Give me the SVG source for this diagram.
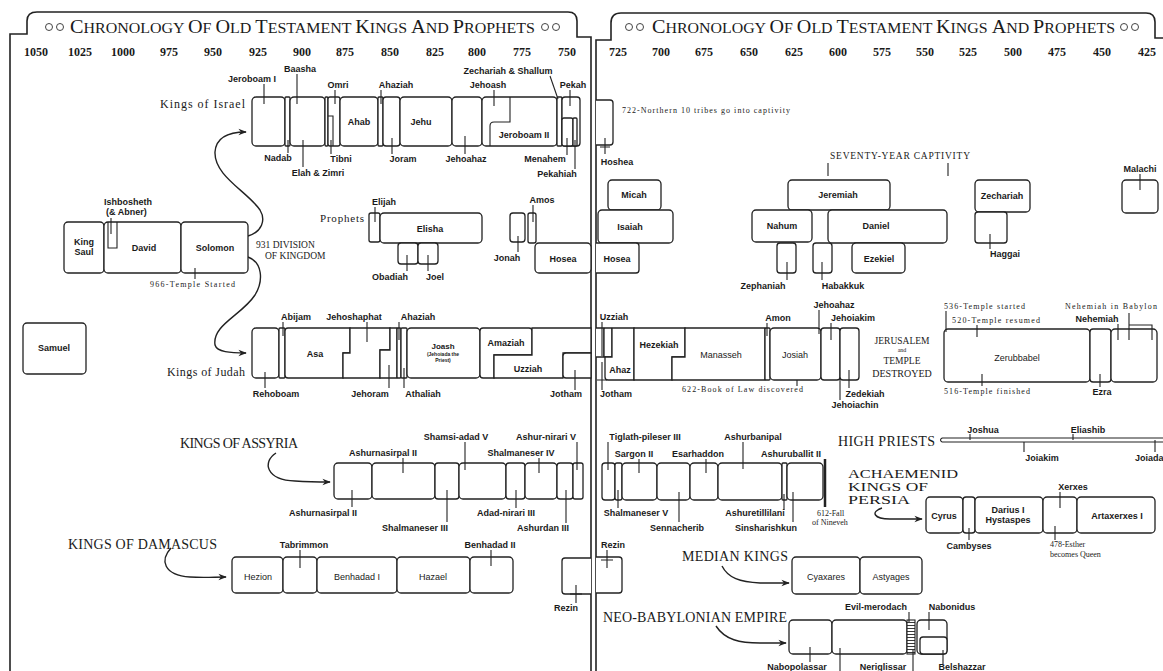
<svg xmlns="http://www.w3.org/2000/svg" width="1163" height="671" viewBox="0 0 1163 671">
<defs>
<marker id="ah" viewBox="0 0 10 10" refX="9" refY="5" markerWidth="6" markerHeight="6" orient="auto"><path d="M0,1 L10,5 L0,9 L3,5 Z" fill="#222"/></marker>
<pattern id="hatch" width="4" height="3" patternUnits="userSpaceOnUse"><rect width="4" height="3" fill="#fff"/><path d="M0,1.5 H4" stroke="#222" stroke-width="0.9"/></pattern>
<style>
.f{fill:none;stroke:#222;stroke-width:1.6}
.b{fill:#fff;stroke:#222;stroke-width:1.3}
.k{fill:none;stroke:#222;stroke-width:1.1}
.c{fill:none;stroke:#222;stroke-width:1.4}
.o{fill:none;stroke:#444;stroke-width:1}
.t{font-family:"Liberation Sans",Arial,sans-serif;font-size:9px;font-weight:bold;fill:#1a1a1a;text-anchor:middle}
.n{font-family:"Liberation Serif","Times New Roman",serif;font-size:8px;fill:#1a1a1a}
.y{font-family:"Liberation Serif","Times New Roman",serif;font-size:12px;font-weight:bold;fill:#1a1a1a;text-anchor:middle}
.h{font-family:"Liberation Serif","Times New Roman",serif;fill:#1a1a1a}
.s{font-family:"Liberation Serif","Times New Roman",serif;font-size:12px;fill:#1a1a1a}
.cap{font-family:"Liberation Serif","Times New Roman",serif;font-size:14px;fill:#1a1a1a}
</style>
</defs>
<rect width="1163" height="671" fill="#fff"/>

<g id="frame">
<path class="f" d="M10,671 V34 H27 V21 Q27,12 37,12 H568 Q577,12 577,21 V37 H591 V671"/>
<path class="f" d="M596,671 V40 H611 V23 Q611,13 621,13 H1146 Q1155,13 1155,22 V38 H1163"/>
<circle class="o" cx="49" cy="27" r="3.5"/><circle class="o" cx="60" cy="27" r="3.5"/>
<circle class="o" cx="545" cy="27" r="3.5"/><circle class="o" cx="556" cy="27" r="3.5"/>
<circle class="o" cx="629" cy="27" r="3.5"/><circle class="o" cx="640" cy="27" r="3.5"/>
<circle class="o" cx="1124" cy="27" r="3.5"/><circle class="o" cx="1135" cy="27" r="3.5"/>
<text class="h" x="70" y="33" textLength="465" lengthAdjust="spacingAndGlyphs"><tspan font-size="19">C</tspan><tspan font-size="15">HRONOLOGY </tspan><tspan font-size="19">O</tspan><tspan font-size="15">F </tspan><tspan font-size="19">O</tspan><tspan font-size="15">LD </tspan><tspan font-size="19">T</tspan><tspan font-size="15">ESTAMENT </tspan><tspan font-size="19">K</tspan><tspan font-size="15">INGS </tspan><tspan font-size="19">A</tspan><tspan font-size="15">ND </tspan><tspan font-size="19">P</tspan><tspan font-size="15">ROPHETS</tspan></text>
<text class="h" x="652" y="33" textLength="463" lengthAdjust="spacingAndGlyphs"><tspan font-size="19">C</tspan><tspan font-size="15">HRONOLOGY </tspan><tspan font-size="19">O</tspan><tspan font-size="15">F </tspan><tspan font-size="19">O</tspan><tspan font-size="15">LD </tspan><tspan font-size="19">T</tspan><tspan font-size="15">ESTAMENT </tspan><tspan font-size="19">K</tspan><tspan font-size="15">INGS </tspan><tspan font-size="19">A</tspan><tspan font-size="15">ND </tspan><tspan font-size="19">P</tspan><tspan font-size="15">ROPHETS</tspan></text>
</g>

<g id="years">
<text class="y" x="36" y="56">1050</text><text class="y" x="80" y="56">1025</text><text class="y" x="123" y="56">1000</text><text class="y" x="169" y="56">975</text><text class="y" x="213" y="56">950</text><text class="y" x="258" y="56">925</text><text class="y" x="302" y="56">900</text><text class="y" x="345" y="56">875</text><text class="y" x="390" y="56">850</text><text class="y" x="435" y="56">825</text><text class="y" x="477" y="56">800</text><text class="y" x="522" y="56">775</text><text class="y" x="567" y="56">750</text>
<text class="y" x="618" y="56">725</text><text class="y" x="661" y="56">700</text><text class="y" x="704" y="56">675</text><text class="y" x="749" y="56">650</text><text class="y" x="794" y="56">625</text><text class="y" x="838" y="56">600</text><text class="y" x="882" y="56">575</text><text class="y" x="925" y="56">550</text><text class="y" x="968" y="56">525</text><text class="y" x="1013" y="56">500</text><text class="y" x="1057" y="56">475</text><text class="y" x="1102" y="56">450</text><text class="y" x="1147" y="56">425</text>
</g>

<g id="connectors">
<path class="c" d="M248,236 C262,232 266,220 260,210 C248,192 214,176 215,152 C216,138 228,132 246,132" marker-end="url(#ah)"/>
<path class="c" d="M248,257 C262,262 264,280 255,295 C242,315 212,325 215,345 C217,352 230,353 246,353" marker-end="url(#ah)"/>
<path class="c" d="M276,453 C262,462 266,480 295,481 C310,482 320,482 330,482" marker-end="url(#ah)"/>
<path class="c" d="M171,548 C160,560 163,575 190,577 C205,578 214,577 226,577" marker-end="url(#ah)"/>
<path class="c" d="M722,566 C728,578 740,582 760,583 L789,583" marker-end="url(#ah)"/>
<path class="c" d="M716,626 C725,640 740,643 760,643 L786,643" marker-end="url(#ah)"/>
<path class="c" d="M882,508 C870,512 874,519 890,519 L922,519" marker-end="url(#ah)"/>
</g>

<!-- United kingdom -->
<g id="samuel"><rect class="b" x="23" y="323" width="63" height="51" rx="4"/><text class="t" x="54" y="351">Samuel</text></g>
<g id="saul"><rect class="b" x="64" y="222" width="40" height="51" rx="4"/><text class="t" x="84" y="245">King</text><text class="t" x="84" y="255">Saul</text></g>
<g id="david"><rect class="b" x="104" y="222" width="77" height="51" rx="4"/><text class="t" x="144" y="251">David</text></g>
<g id="ishbosheth"><path class="k" d="M108,222 V248 H117 V222"/><path class="k" d="M111,218 V234"/><text class="t" x="104" y="205" style="text-anchor:start">Ishbosheth</text><text class="t" x="106" y="215" style="text-anchor:start">(&amp; Abner)</text></g>
<g id="solomon"><rect class="b" x="181" y="222" width="67" height="51" rx="4"/><text class="t" x="215" y="251">Solomon</text><path class="k" d="M195,268 V279"/><text class="n" x="150" y="287" textLength="85">966-Temple Started</text></g>
<g id="division"><text class="h" font-size="9.5" x="256" y="248">931 DIVISION</text><text class="h" font-size="9.5" x="265" y="259">OF KINGDOM</text></g>

<!-- Kings of Israel -->
<g id="israel-label"><text class="s" x="160" y="108" textLength="85">Kings of Israel</text></g>
<g id="jeroboam1"><rect class="b" x="252" y="97" width="33" height="49" rx="4"/><path class="k" d="M264,84 V104"/><text class="t" x="252" y="82">Jeroboam I</text></g>
<g id="nadab"><rect class="b" x="285" y="97" width="5" height="49" rx="1"/><path class="k" d="M288,140 V153"/><text class="t" x="278" y="161">Nadab</text></g>
<g id="baasha"><rect class="b" x="290" y="97" width="35" height="49" rx="4"/><path class="k" d="M297,74 V104"/><text class="t" x="300" y="72">Baasha</text></g>
<g id="elah"><rect class="b" x="325" y="97" width="3" height="49" rx="1"/><path class="k" d="M303,140 V167"/><text class="t" x="318" y="176">Elah &amp; Zimri</text></g>
<g id="omri"><rect class="b" x="328" y="97" width="12" height="49" rx="2"/><path class="k" d="M328,116 H333 V146"/><path class="k" d="M335,90 V104"/><text class="t" x="338" y="88">Omri</text></g>
<g id="tibni"><path class="k" d="M331,140 V154"/><text class="t" x="341" y="162">Tibni</text></g>
<g id="ahab"><rect class="b" x="340" y="97" width="38" height="49" rx="4"/><text class="t" x="359" y="125">Ahab</text></g>
<g id="ahaziah-i"><rect class="b" x="378" y="97" width="5" height="49" rx="1"/><path class="k" d="M381,90 V104"/><text class="t" x="396" y="88">Ahaziah</text></g>
<g id="joram"><rect class="b" x="383" y="97" width="17" height="49" rx="3"/><path class="k" d="M392,138 V154"/><text class="t" x="403" y="162">Joram</text></g>
<g id="jehu"><rect class="b" x="400" y="97" width="52" height="49" rx="4"/><text class="t" x="421" y="125">Jehu</text></g>
<g id="jehoahaz-i"><rect class="b" x="452" y="97" width="30" height="49" rx="4"/><path class="k" d="M465,136 V154"/><text class="t" x="466" y="162">Jehoahaz</text></g>
<g id="jeroboam2"><rect class="b" x="482" y="97" width="75" height="49" rx="4"/><path class="k" d="M510,97 V122 H494 Q490,122 490,126 V146"/><text class="t" x="524" y="138">Jeroboam II</text></g>
<g id="jehoash"><path class="k" d="M494,90 V106"/><text class="t" x="488" y="88">Jehoash</text></g>
<g id="zechariah-shallum"><rect class="b" x="557" y="97" width="5" height="49" rx="1"/><path class="k" d="M550,76 L558,99"/><text class="t" x="508" y="74">Zechariah &amp; Shallum</text></g>
<g id="pekah"><rect class="b" x="562" y="97" width="18" height="49" rx="3"/><path class="k" d="M570,90 V106"/><text class="t" x="573" y="88">Pekah</text></g>
<g id="menahem"><rect class="b" x="562" y="118" width="11" height="28" rx="2"/><path class="k" d="M567,138 V155"/><text class="t" x="545" y="162">Menahem</text></g>
<g id="pekahiah"><rect class="b" x="573" y="118" width="4" height="28" rx="1"/><path class="k" d="M575,140 V169"/><text class="t" x="557" y="177">Pekahiah</text></g>
<g id="hoshea"><path class="b" d="M596,100 H610 Q613,100 613,103 V142 Q613,145 610,145 H596"/><path class="k" d="M605,138 V154 M600,147 H610"/><text class="t" x="617" y="165">Hoshea</text></g>
<g id="captivity722"><text class="n" x="622" y="113" textLength="168">722-Northern 10 tribes go into captivity</text></g>

<!-- Prophets -->
<g id="prophets-label"><text class="s" x="320" y="222" style="font-size:11px" textLength="44">Prophets</text></g>
<g id="elijah"><rect class="b" x="369" y="213" width="11" height="29" rx="2"/><path class="k" d="M375,207 V222"/><text class="t" x="384" y="205">Elijah</text></g>
<g id="elisha"><rect class="b" x="380" y="213" width="102" height="30" rx="4"/><text class="t" x="430" y="232">Elisha</text></g>
<g id="obadiah"><rect class="b" x="398" y="243" width="20" height="21" rx="3"/><path class="k" d="M407,255 V271"/><text class="t" x="390" y="280">Obadiah</text></g>
<g id="joel"><rect class="b" x="418" y="243" width="20" height="21" rx="3"/><path class="k" d="M428,255 V271"/><text class="t" x="435" y="280">Joel</text></g>
<g id="jonah"><rect class="b" x="510" y="213" width="15" height="29" rx="3"/><path class="k" d="M518,236 V252"/><text class="t" x="507" y="261">Jonah</text></g>
<g id="amos"><rect class="b" x="528" y="213" width="8" height="30" rx="2"/><path class="k" d="M533,205 V222"/><text class="t" x="542" y="203">Amos</text></g>
<g id="hosea-l"><rect class="b" x="535" y="243" width="56" height="30" rx="4"/><text class="t" x="563" y="262">Hosea</text></g>
<g id="micah"><rect class="b" x="608" y="180" width="53" height="30" rx="4"/><text class="t" x="634" y="198">Micah</text></g>
<g id="isaiah"><rect class="b" x="598" y="210" width="75" height="33" rx="4"/><text class="t" x="630" y="230">Isaiah</text></g>
<g id="hosea-r"><path class="b" d="M596,243 H636 Q639,243 639,246 V270 Q639,273 636,273 H596"/><text class="t" x="617" y="262">Hosea</text></g>
<g id="seventy"><text class="h" font-size="9.5" x="830" y="159" textLength="140">SEVENTY-YEAR CAPTIVITY</text><path class="k" d="M828,163 V176 M948,163 V176"/></g>
<g id="jeremiah"><rect class="b" x="788" y="180" width="102" height="30" rx="4"/><text class="t" x="838" y="198">Jeremiah</text></g>
<g id="nahum"><rect class="b" x="752" y="210" width="60" height="32" rx="4"/><text class="t" x="782" y="229">Nahum</text></g>
<g id="daniel"><rect class="b" x="828" y="210" width="119" height="33" rx="4"/><text class="t" x="876" y="229">Daniel</text></g>
<g id="zephaniah"><rect class="b" x="777" y="243" width="19" height="30" rx="3"/><path class="k" d="M787,262 V280"/><text class="t" x="763" y="289">Zephaniah</text></g>
<g id="habakkuk"><rect class="b" x="813" y="243" width="19" height="30" rx="3"/><path class="k" d="M822,262 V280"/><text class="t" x="843" y="289">Habakkuk</text></g>
<g id="ezekiel"><rect class="b" x="852" y="243" width="53" height="30" rx="4"/><text class="t" x="879" y="262">Ezekiel</text></g>
<g id="zechariah-p"><rect class="b" x="975" y="180" width="55" height="32" rx="4"/><text class="t" x="1002" y="199">Zechariah</text></g>
<g id="haggai"><rect class="b" x="975" y="212" width="32" height="31" rx="3"/><path class="k" d="M990,234 V249"/><text class="t" x="1005" y="257">Haggai</text></g>
<g id="malachi"><rect class="b" x="1122" y="180" width="36" height="33" rx="4"/><path class="k" d="M1140,174 V190"/><text class="t" x="1140" y="172">Malachi</text></g>

<!-- Kings of Judah -->
<g id="judah-label"><text class="s" x="167" y="376" textLength="78">Kings of Judah</text></g>
<g id="rehoboam"><rect class="b" x="252" y="328" width="27" height="50" rx="4"/><path class="k" d="M265,372 V388"/><text class="t" x="276" y="397">Rehoboam</text></g>
<g id="abijam"><rect class="b" x="279" y="328" width="6" height="50" rx="1"/><path class="k" d="M283,322 V336"/><text class="t" x="296" y="320">Abijam</text></g>
<g id="asa"><path class="b" d="M288,328 H350 V353 H343 V378 H288 Q285,378 285,375 V331 Q285,328 288,328 Z"/><text class="t" x="315" y="357">Asa</text></g>
<g id="jehoshaphat"><path class="b" d="M350,328 H390 V350 H380 V378 H343 V353 H350 Z"/><path class="k" d="M367,322 V342"/><text class="t" x="354" y="320">Jehoshaphat</text></g>
<g id="jehoram"><path class="b" d="M390,328 H397 V378 H380 V350 H390 Z"/><path class="k" d="M389,365 V388"/><text class="t" x="370" y="397">Jehoram</text></g>
<g id="ahaziah-j"><rect class="b" x="397" y="328" width="4" height="50" rx="1"/><path class="k" d="M399,322 V340"/><text class="t" x="418" y="320">Ahaziah</text></g>
<g id="athaliah"><rect class="b" x="401" y="328" width="6" height="50" rx="1"/><path class="k" d="M404,368 V388"/><text class="t" x="423" y="397">Athaliah</text></g>
<g id="joash"><rect class="b" x="407" y="328" width="73" height="50" rx="4"/><text class="t" x="443" y="349" style="font-size:8px">Joash</text><text class="t" x="443" y="356" style="font-size:5px">(Jehoiada the</text><text class="t" x="443" y="362" style="font-size:5px">Priest)</text></g>
<g id="amaziah"><path class="b" d="M483,328 H529 Q532,328 532,331 V355 H494 V378 H483 Q480,378 480,375 V331 Q480,328 483,328 Z"/><text class="t" x="506" y="346">Amaziah</text></g>
<g id="uzziah-l"><path class="b" d="M532,328 H591 V353 H563 V378 H494 V355 H532 Z"/><text class="t" x="528" y="372">Uzziah</text></g>
<g id="jotham-l"><path class="b" d="M566,353 H591 V378 H566 Q563,378 563,375 V356 Q563,353 566,353 Z"/><path class="k" d="M575,370 V390"/><text class="t" x="566" y="397">Jotham</text></g>

<g id="uzziah-r"><path class="b" d="M596,328 H604 V357 H596"/><path class="k" d="M602,322 V356"/><text class="t" x="614" y="320">Uzziah</text></g>
<g id="jotham-r"><rect class="b" x="604" y="328" width="8" height="29" rx="1"/><path class="k" d="M602,362 V390 M597,380 H607"/><text class="t" x="616" y="397">Jotham</text></g>
<g id="ahaz"><path class="b" d="M612,328 H634 V380 H608 Q605,380 605,377 V357 H612 Z"/><text class="t" x="620" y="373">Ahaz</text></g>
<g id="hezekiah"><path class="b" d="M634,328 H685 V357 H672 V380 H634 Z"/><text class="t" x="659" y="348">Hezekiah</text></g>
<g id="manasseh"><path class="b" d="M685,328 H765 V380 H672 V357 H685 Z"/><text class="t" x="721" y="358" style="font-weight:normal">Manasseh</text><path class="k" d="M797,372 V386"/><text class="n" x="682" y="392" textLength="121">622-Book of Law discovered</text></g>
<g id="amon"><rect class="b" x="765" y="328" width="5" height="52" rx="1"/><path class="k" d="M767,323 V336"/><text class="t" x="778" y="321">Amon</text></g>
<g id="josiah"><rect class="b" x="770" y="328" width="51" height="52" rx="4"/><text class="t" x="795" y="358" style="font-weight:normal">Josiah</text></g>
<g id="jehoahaz-j"><path class="k" d="M819,310 V334"/><text class="t" x="834" y="308">Jehoahaz</text></g>
<g id="jehoiakim"><rect class="b" x="821" y="328" width="19" height="52" rx="3"/><path class="k" d="M831,323 V340"/><text class="t" x="853" y="321">Jehoiakim</text></g>
<g id="zedekiah"><rect class="b" x="840" y="328" width="19" height="52" rx="3"/><path class="k" d="M849,370 V388"/><text class="t" x="865" y="397">Zedekiah</text></g>
<g id="jehoiachin"><path class="k" d="M840,378 V400"/><text class="t" x="855" y="408">Jehoiachin</text></g>
<g id="destroyed"><text class="h" font-size="9.5" x="902" y="344" text-anchor="middle">JERUSALEM</text><text class="h" font-size="6" x="902" y="352" text-anchor="middle">and</text><text class="h" font-size="9.5" x="902" y="364" text-anchor="middle">TEMPLE</text><text class="h" font-size="10" x="902" y="377" text-anchor="middle">DESTROYED</text></g>
<g id="zerubbabel"><rect class="b" x="944" y="329" width="146" height="53" rx="4"/><text class="t" x="1017" y="361" style="font-weight:normal">Zerubbabel</text><path class="k" d="M946,311 V332 M977,325 V337 M982,374 V386"/><text class="n" x="944" y="309" textLength="81">536-Temple started</text><text class="n" x="952" y="323" textLength="88">520-Temple resumed</text><text class="n" x="944" y="394" textLength="86">516-Temple finished</text></g>
<g id="ezra"><rect class="b" x="1090" y="329" width="21" height="53" rx="3"/><path class="k" d="M1100,374 V387"/><text class="t" x="1102" y="395">Ezra</text></g>
<g id="nehemiah"><rect class="b" x="1111" y="329" width="46" height="53" rx="4"/><path class="k" d="M1118,324 V340 M1129,313 V340 M1129,325 H1152 V340"/><text class="t" x="1097" y="322">Nehemiah</text><text class="n" x="1065" y="309" textLength="92">Nehemiah in Babylon</text></g>

<!-- High priests -->
<g id="high-priests"><text class="cap" x="838" y="446" textLength="97">HIGH PRIESTS</text><path class="k" d="M942,438 H1163 M942,442 H1163 M942,438 Q939,440 942,442"/><path class="k" d="M970,434 V440 M1073,434 V440 M1024,442 V452 M1155,440 V452"/><text class="t" x="983" y="433">Joshua</text><text class="t" x="1088" y="433">Eliashib</text><text class="t" x="1042" y="461">Joiakim</text><text class="t" x="1135" y="461" style="text-anchor:start">Joiada</text></g>

<!-- Assyria -->
<g id="assyria-label"><text class="cap" x="180" y="448" textLength="118">KINGS OF ASSYRIA</text></g>
<g id="ashurnasirpal1"><rect class="b" x="334" y="463" width="38" height="36" rx="4"/><path class="k" d="M352,490 V507"/><text class="t" x="323" y="516">Ashurnasirpal II</text></g>
<g id="ashurnasirpal2"><rect class="b" x="372" y="463" width="63" height="36" rx="4"/><path class="k" d="M403,458 V473"/><text class="t" x="383" y="456">Ashurnasirpal II</text></g>
<g id="shalmaneser3"><rect class="b" x="435" y="463" width="24" height="36" rx="3"/><path class="k" d="M447,490 V522"/><text class="t" x="415" y="531">Shalmaneser III</text></g>
<g id="shamsiadad5"><rect class="b" x="459" y="463" width="47" height="36" rx="4"/><path class="k" d="M465,442 V470"/><text class="t" x="456" y="440">Shamsi-adad V</text></g>
<g id="adadnirari3"><rect class="b" x="506" y="463" width="19" height="36" rx="3"/><path class="k" d="M516,490 V508"/><text class="t" x="506" y="516">Adad-nirari III</text></g>
<g id="shalmaneser4"><rect class="b" x="525" y="463" width="32" height="36" rx="4"/><path class="k" d="M539,458 V473"/><text class="t" x="521" y="456">Shalmaneser IV</text></g>
<g id="ashurdan3"><rect class="b" x="557" y="463" width="16" height="36" rx="3"/><path class="k" d="M566,490 V523"/><text class="t" x="543" y="531">Ashurdan III</text></g>
<g id="ashurnirari5"><rect class="b" x="573" y="463" width="10" height="36" rx="2"/><path class="k" d="M577,442 V470"/><text class="t" x="546" y="440">Ashur-nirari V</text></g>

<g id="tiglath"><rect class="b" x="602" y="463" width="13" height="37" rx="3"/><path class="k" d="M608,442 V470"/><text class="t" x="645" y="440">Tiglath-pileser III</text></g>
<g id="shalmaneser5"><rect class="b" x="615" y="463" width="7" height="37" rx="2"/><path class="k" d="M618,490 V508"/><text class="t" x="636" y="516">Shalmaneser V</text></g>
<g id="sargon2"><rect class="b" x="622" y="463" width="35" height="37" rx="4"/><path class="k" d="M639,459 V473"/><text class="t" x="634" y="457">Sargon II</text></g>
<g id="sennacherib"><rect class="b" x="657" y="463" width="33" height="37" rx="4"/><path class="k" d="M679,492 V522"/><text class="t" x="677" y="531">Sennacherib</text></g>
<g id="esarhaddon"><rect class="b" x="690" y="463" width="28" height="37" rx="4"/><path class="k" d="M706,459 V473"/><text class="t" x="698" y="457">Esarhaddon</text></g>
<g id="ashurbanipal"><rect class="b" x="718" y="463" width="64" height="37" rx="4"/><path class="k" d="M743,442 V469"/><text class="t" x="753" y="440">Ashurbanipal</text></g>
<g id="ashuretillilani"><rect class="b" x="782" y="463" width="5" height="37" rx="1"/><path class="k" d="M784,494 V510"/><text class="t" x="755" y="516">Ashuretillilani</text></g>
<g id="sinsharishkun"><rect class="b" x="787" y="463" width="36" height="37" rx="4"/><path class="k" d="M793,492 V522"/><text class="t" x="766" y="531">Sinsharishkun</text></g>
<g id="ashuruballit"><path d="M825,459 V507" stroke="#222" stroke-width="2.5"/><text class="t" x="791" y="457">Ashuruballit II</text><text class="n" x="817" y="516">612-Fall</text><text class="n" x="812" y="525">of Nineveh</text></g>

<!-- Damascus -->
<g id="damascus-label"><text class="cap" x="68" y="549" textLength="149">KINGS OF DAMASCUS</text></g>
<g id="hezion"><rect class="b" x="232" y="557" width="51" height="36" rx="4"/><text class="t" x="258" y="580" style="font-weight:normal">Hezion</text></g>
<g id="tabrimmon"><rect class="b" x="283" y="557" width="34" height="36" rx="4"/><path class="k" d="M300,550 V568"/><text class="t" x="304" y="548">Tabrimmon</text></g>
<g id="benhadad1"><rect class="b" x="317" y="557" width="80" height="36" rx="4"/><text class="t" x="357" y="580" style="font-weight:normal">Benhadad I</text></g>
<g id="hazael"><rect class="b" x="397" y="557" width="73" height="36" rx="4"/><text class="t" x="433" y="580" style="font-weight:normal">Hazael</text></g>
<g id="benhadad2"><rect class="b" x="470" y="557" width="43" height="36" rx="4"/><path class="k" d="M491,550 V566"/><text class="t" x="490" y="548">Benhadad II</text></g>
<g id="rezin-l"><path class="b" d="M591,558 H565 Q562,558 562,561 V591 Q562,594 565,594 H591"/><path class="k" d="M576,585 V603 M570,594 H582"/><text class="t" x="566" y="611">Rezin</text></g>
<g id="rezin-r"><path class="b" d="M596,557 H619 Q622,557 622,560 V590 Q622,593 619,593 H596"/><path class="k" d="M607,550 V568 M601,560 H613"/><text class="t" x="613" y="548">Rezin</text></g>

<!-- Median -->
<g id="median-label"><text class="cap" x="682" y="561" textLength="106">MEDIAN KINGS</text></g>
<g id="cyaxares"><rect class="b" x="792" y="557" width="68" height="37" rx="4"/><text class="t" x="826" y="580" style="font-weight:normal">Cyaxares</text></g>
<g id="astyages"><rect class="b" x="860" y="557" width="62" height="37" rx="4"/><text class="t" x="891" y="580" style="font-weight:normal">Astyages</text></g>

<!-- Neo-Babylonian -->
<g id="babylon-label"><text class="cap" x="603" y="622" textLength="184">NEO-BABYLONIAN EMPIRE</text></g>
<g id="nabopolassar"><rect class="b" x="789" y="620" width="43" height="34" rx="4"/><path class="k" d="M810,647 V662"/><text class="t" x="797" y="670">Nabopolassar</text></g>
<g id="nebuchadnezzar"><rect class="b" x="832" y="620" width="75" height="34" rx="4"/><path class="k" d="M840,648 V671"/></g>
<g id="evilmerodach"><rect x="907" y="620" width="8" height="34" fill="url(#hatch)" stroke="#222" stroke-width="1.1"/><path class="k" d="M909,612 V622"/><text class="t" x="876" y="610">Evil-merodach</text></g>
<g id="neriglissar"><path class="k" d="M913,650 V671"/><text class="t" x="883" y="670">Neriglissar</text></g>
<g id="nabonidus"><rect class="b" x="917" y="620" width="30" height="34" rx="4"/><path class="k" d="M929,612 V630"/><text class="t" x="952" y="610">Nabonidus</text></g>
<g id="belshazzar"><rect class="b" x="920" y="637" width="27" height="17" rx="3"/><path class="k" d="M943,650 V664"/><text class="t" x="962" y="670">Belshazzar</text></g>

<!-- Persia -->
<g id="persia-label"><text class="cap" x="848" y="478" style="font-size:11.5px" textLength="110" lengthAdjust="spacingAndGlyphs">ACHAEMENID</text><text class="cap" x="848" y="491" style="font-size:11.5px" textLength="80" lengthAdjust="spacingAndGlyphs">KINGS OF</text><text class="cap" x="848" y="504" style="font-size:11.5px" textLength="62" lengthAdjust="spacingAndGlyphs">PERSIA</text></g>
<g id="cyrus"><rect class="b" x="926" y="497" width="37" height="36" rx="4"/><text class="t" x="944" y="519">Cyrus</text></g>
<g id="cambyses"><rect class="b" x="963" y="497" width="12" height="36" rx="3"/><path class="k" d="M969,528 V540"/><text class="t" x="969" y="549">Cambyses</text></g>
<g id="darius"><rect class="b" x="975" y="497" width="68" height="36" rx="4"/><text class="t" x="1008" y="513">Darius I</text><text class="t" x="1008" y="523">Hystaspes</text></g>
<g id="xerxes"><rect class="b" x="1043" y="497" width="34" height="36" rx="4"/><path class="k" d="M1060,492 V508 M1055,526 V540"/><text class="t" x="1073" y="490">Xerxes</text><text class="n" x="1050" y="547">478-Esther</text><text class="n" x="1050" y="557">becomes Queen</text></g>
<g id="artaxerxes"><rect class="b" x="1077" y="497" width="78" height="36" rx="4"/><text class="t" x="1117" y="519">Artaxerxes I</text></g>
</svg>
